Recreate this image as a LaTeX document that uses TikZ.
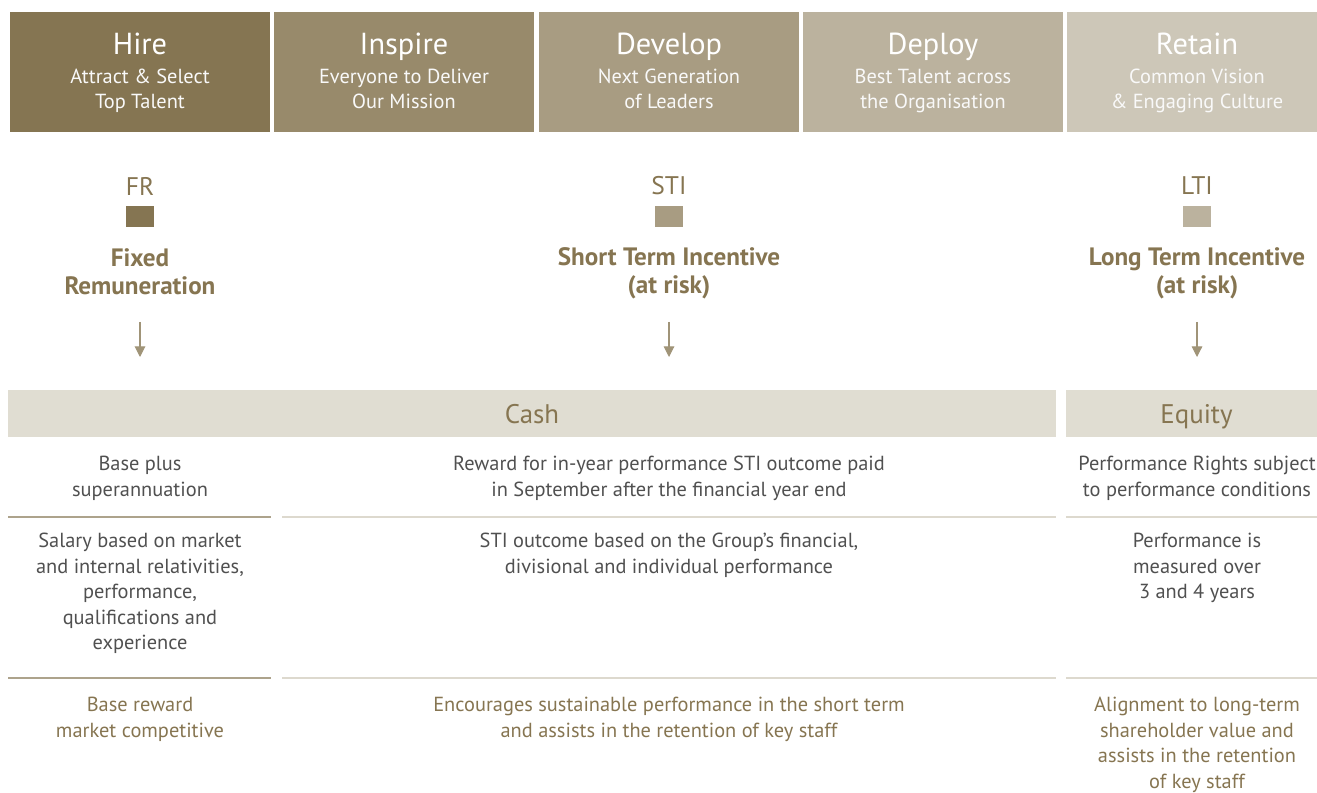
\documentclass[tikz,border=0pt]{standalone}
\usepackage{fontspec}
\setmainfont{PT Sans}
\usetikzlibrary{arrows.meta}
\definecolor{hirec}{HTML}{857552}
\definecolor{inspc}{HTML}{988A6B}
\definecolor{devc}{HTML}{A89C82}
\definecolor{depc}{HTML}{BBB29E}
\definecolor{retc}{HTML}{CDC7B8}
\definecolor{gold}{HTML}{867551}
\definecolor{band}{HTML}{E0DDD2}
\definecolor{body}{HTML}{505050}
\definecolor{arrc}{HTML}{A09478}
\definecolor{ruled}{HTML}{ADA38C}
\definecolor{rulel}{HTML}{DDD9CE}

\begin{document}
\begin{tikzpicture}[x=0.02cm, y=-0.02cm,
  tab/.style={rectangle, minimum width=5.2cm, minimum height=2.4cm, inner sep=0},
  ttl/.style={text=white, inner sep=0, anchor=base, font=\fontsize{17.3}{20}\selectfont},
  sub/.style={text=white!95!gray, inner sep=0, align=center, anchor=base, font=\fontsize{11.6}{14.5}\selectfont},
  key/.style={text=gold, inner sep=0, font=\fontsize{14.5}{16}\selectfont},
  sq/.style={rectangle, minimum width=0.56cm, minimum height=0.42cm, inner sep=0},
  kind/.style={text=gold, inner sep=0, align=center, font=\bfseries\fontsize{14.3}{16}\selectfont},
  bandbox/.style={rectangle, fill=band, minimum height=0.94cm, inner sep=0, text height=11pt, text depth=0pt, text=gold, font=\fontsize{15.3}{16}\selectfont},
  txt/.style={text=body, inner sep=0, align=center, anchor=north, font=\fontsize{11.6}{14.5}\selectfont},
  note/.style={txt, text=gold},
  arr/.style={draw=arrc, line width=0.6pt, -{Triangle[width=6pt,length=6pt,fill=arrc]}},
  rule/.style={line width=1pt}]
\useasboundingbox (0,0) rectangle (1317,793);

\node[tab, fill=hirec] (hire) at (140,72) {};
\node[tab, fill=inspc] (insp) at (404,72) {};
\node[tab, fill=devc] (dev) at (669,72) {};
\node[tab, fill=depc] (dep) at (933,72) {};
\node[tab, fill=retc] (ret) at (1197,72) {};

\node[ttl] at (140,55) {Hire};
\node[ttl] at (404,55) {Inspire};
\node[ttl] at (669,55) {Develop};
\node[ttl] at (933,55) {Deploy};
\node[ttl] at (1197,55) {Retain};
\node[sub] at (140,109) {Attract \& Select\\Top Talent};
\node[sub] at (404,109) {Everyone to Deliver\\Our Mission};
\node[sub] at (669,109) {Next Generation\\of Leaders};
\node[sub] at (933,109) {Best Talent across\\the Organisation};
\node[sub] at (1197,109) {Common Vision\\\& Engaging Culture};

\node[key] (fr) at (140,186) {FR};
\node[key] (sti) at (669,186) {STI};
\node[key] (lti) at (1197,186) {LTI};
\node[sq, fill=hirec] (frsq) at (140,217) {};
\node[sq, fill=devc] (stisq) at (669,217) {};
\node[sq, fill=depc] (ltisq) at (1197,217) {};
\node[kind] (frk) at (140,272) {Fixed\\Remuneration};
\node[kind] (stik) at (669,273) {Short Term Incentive\\(at risk)};
\node[kind] (ltik) at (1197,273) {Long Term Incentive\\(at risk)};

\coordinate (fra) at (140,322);
\coordinate (frb) at (140,357);
\coordinate (stia) at (669,322);
\coordinate (stib) at (669,357);
\coordinate (ltia) at (1197,322);
\coordinate (ltib) at (1197,357);
\draw[arr] (fra) -- (frb);
\draw[arr] (stia) -- (stib);
\draw[arr] (ltia) -- (ltib);

\node[bandbox, minimum width=20.96cm] (cash) at (532,413.5) {Cash};
\node[bandbox, minimum width=5.22cm] (eq) at (1196.5,413.5) {Equity};

\node[txt] (c1) at (140,456) {Base plus\\superannuation};
\node[txt] (c2) at (669,456) {Reward for in-year performance STI outcome paid\\in September after the financial year end};
\node[txt] (c3) at (1197,456) {Performance Rights subject\\to performance conditions};

\draw[rule, ruled] (8,517) -- (271,517);
\draw[rule, rulel] (282,517) -- (1056,517);
\draw[rule, rulel] (1066,517) -- (1317,517);

\node[txt] (d1) at (140,533) {Salary based on market\\and internal relativities,\\performance,\\qualifications and\\experience};
\node[txt] (d2) at (669,533) {STI outcome based on the Group's financial,\\divisional and individual performance};
\node[txt] (d3) at (1197,533) {Performance is\\measured over\\3 and 4 years};

\draw[rule, ruled] (8,678) -- (271,678);
\draw[rule, rulel] (282,678) -- (1056,678);
\draw[rule, rulel] (1066,678) -- (1317,678);

\node[note] (e1) at (140,697) {Base reward\\market competitive};
\node[note] (e2) at (669,697) {Encourages sustainable performance in the short term\\and assists in the retention of key staff};
\node[note] (e3) at (1197,697) {Alignment to long-term\\shareholder value and\\assists in the retention\\of key staff};
\end{tikzpicture}
\end{document}
